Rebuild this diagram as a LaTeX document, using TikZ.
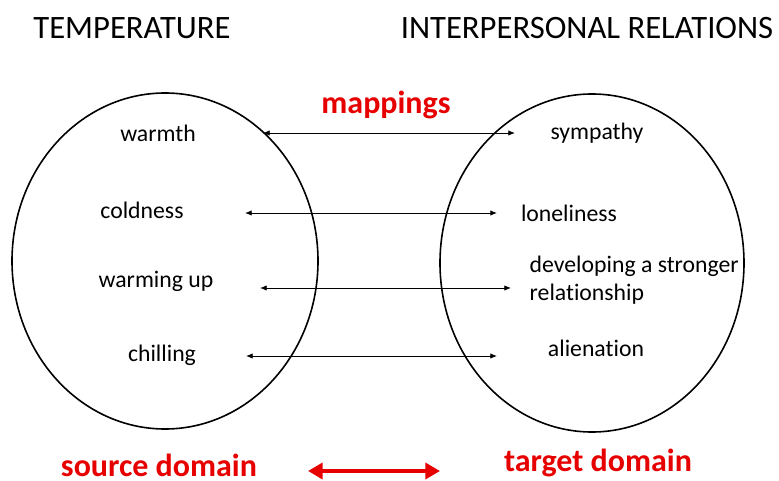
\documentclass[tikz,border=0pt]{standalone}
\usepackage{fontspec}
\setmainfont[Ligatures=NoCommon]{Carlito}
\usetikzlibrary{arrows.meta}
\definecolor{mapred}{RGB}{230,0,0}

\begin{document}
\begin{tikzpicture}[x=0.75pt,y=-0.75pt,
    heading/.style={font=\fontsize{24.5}{28}\selectfont},
    concept/.style={font=\fontsize{17.8}{21}\selectfont},
    redlabel/.style={text=mapred,inner sep=1pt,font=\fontsize{24}{28}\selectfont\bfseries},
    map/.style={{Latex[length=5pt,width=4pt]}-{Latex[length=5pt,width=4pt]},line width=0.6pt}]
    \useasboundingbox (0,0) rectangle (779,481);
    % the two domains
    \draw[line width=1.2pt] (165,261) ellipse (114.75pt and 126pt);
    \draw[line width=1.2pt] (592,263) ellipse (114pt and 126.75pt);
    \node[heading] (temp) at (132,28) {TEMPERATURE};
    \node[heading] (inter) at (587,28) {INTERPERSONAL RELATIONS};
    \node[redlabel] (mappings) at (386,105) {mappings};
    % source concepts
    \node[concept] (warmth) at (158,133) {warmth};
    \node[concept] (coldness) at (142,210) {coldness};
    \node[concept] (warming) at (156,281) {warming up};
    \node[concept] (chilling) at (162,355) {chilling};
    % target concepts
    \node[concept] (sympathy) at (597,133) {sympathy};
    \node[concept] (loneliness) at (569,213) {loneliness};
    \node[concept,anchor=west,align=left] (stronger) at (525,280) {developing a stronger\\relationship};
    \node[concept] (alienation) at (596,348) {alienation};
    % mappings
    \coordinate (m1a) at (263,133);
    \coordinate (m1b) at (515,133);
    \coordinate (m2a) at (245,213);
    \coordinate (m2b) at (497,213);
    \coordinate (m3a) at (260,288);
    \coordinate (m3b) at (511,288);
    \coordinate (m4a) at (246,356);
    \coordinate (m4b) at (497,356);
    \draw[map] (m1a) -- (m1b);
    \draw[map] (m2a) -- (m2b);
    \draw[map] (m3a) -- (m3b);
    \draw[map] (m4a) -- (m4b);
    \node[redlabel] (source) at (159,465) {source domain};
    \node[redlabel] (target) at (598,463) {target domain};
    \coordinate (sd) at (308,471);
    \coordinate (td) at (440,471);
    \draw[mapred,line width=3.5pt,{Triangle[length=11pt,width=12pt]}-{Triangle[length=11pt,width=12pt]}] (sd) -- (td);
\end{tikzpicture}
\end{document}
